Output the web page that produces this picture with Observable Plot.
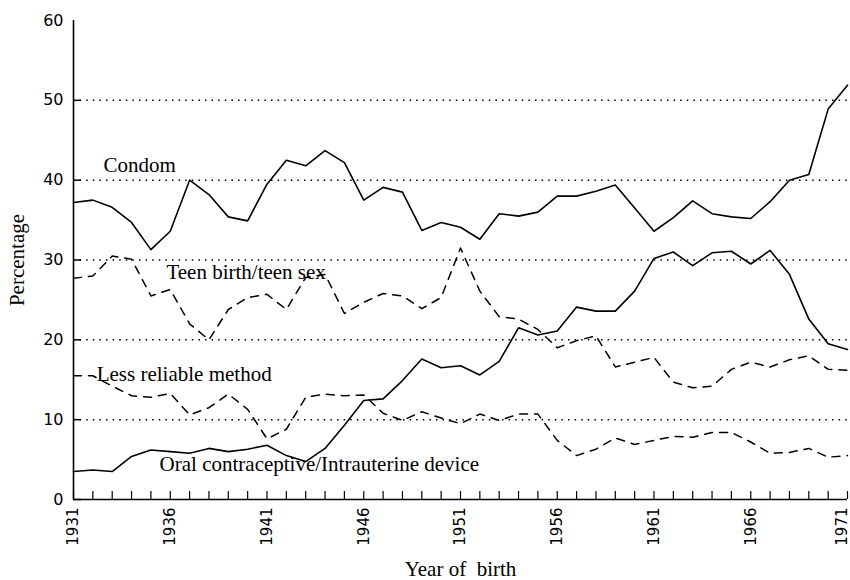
<!DOCTYPE html>
<html><head><meta charset="utf-8">
<script src="https://cdn.jsdelivr.net/npm/d3@7"></script>
<script src="https://cdn.jsdelivr.net/npm/@observablehq/plot@0.6"></script>
<style>body{margin:0;background:#fff;}</style>
</head><body><div id="chart"></div>
<script>
const years = [1931,1932,1933,1934,1935,1936,1937,1938,1939,1940,
  1941,1942,1943,1944,1945,1946,1947,1948,1949,1950,
  1951,1952,1953,1954,1955,1956,1957,1958,1959,1960,
  1961,1962,1963,1964,1965,1966,1967,1968,1969,1970,1971];
const condom = [37.2,37.5,36.6,34.7,31.3,33.6,40.0,38.2,35.4,34.9,
  39.5,42.5,41.8,43.7,42.2,37.5,39.1,38.5,33.7,34.7,
  34.1,32.6,35.8,35.5,36.0,38.0,38.0,38.6,39.4,36.5,
  33.6,35.3,37.4,35.8,35.4,35.2,37.3,40.0,40.7,48.9,51.9];
const teen = [27.7,28.0,30.5,30.1,25.5,26.3,22.0,20.0,23.8,25.3,
  25.7,23.8,27.8,28.2,23.3,24.7,25.8,25.5,23.9,25.3,
  31.5,26.1,22.9,22.6,21.3,19.0,19.9,20.5,16.6,17.2,
  17.8,14.7,14.0,14.2,16.3,17.2,16.6,17.5,18.0,16.3,16.2];
const lessReliable = [15.5,15.5,14.2,13.0,12.8,13.3,10.6,11.5,13.2,11.3,
  7.6,8.8,12.8,13.2,13.0,13.1,10.8,9.9,11.0,10.2,
  9.5,10.7,9.9,10.7,10.7,7.4,5.5,6.3,7.7,6.9,
  7.4,7.9,7.8,8.4,8.4,7.2,5.8,5.9,6.4,5.3,5.5];
const oral = [3.5,3.7,3.5,5.4,6.2,6.0,5.8,6.4,6.0,6.3,
  6.8,5.5,4.75,6.4,9.3,12.4,12.6,14.9,17.6,16.5,
  16.75,15.6,17.3,21.5,20.6,21.1,24.1,23.6,23.6,26.1,
  30.2,31.0,29.3,30.9,31.1,29.5,31.2,28.2,22.6,19.5,18.8];
const seriesNames = ["Condom","Teen birth/teen sex","Less reliable method","Oral contraceptive/Intrauterine device"];
const xTickLabels = [1931,1936,1941,1946,1951,1956,1961,1966];
const xLastLabel = [1971];
const yTickLabels = [0,10,20,30,40,50,60];
const yTickMarks = [0,10,20,30,40,50];
const gridValues = [10,20,30,40,50];

const rows = (vals) => years.map((y,i) => ({year: y, value: vals[i]}));
const serif = "'Liberation Serif','Times New Roman',serif";
const solid = {x:"year", y:"value", stroke:"#000", strokeWidth:1.6};
const dashed = {x:"year", y:"value", stroke:"#000", strokeWidth:1.5, strokeDasharray:"8,7"};
const lbl = {fontFamily: serif, fontSize: 21, textAnchor:"start", lineAnchor:"bottom", fill:"#000", text: d => d};

const chart = Plot.plot({
  width: 850, height: 580,
  marginLeft: 73, marginRight: 3, marginTop: 20, marginBottom: 81,
  style: {fontFamily: "'DejaVu Sans', sans-serif", fontSize: "15px", background: "#fff", color: "#000"},
  x: {domain: [1931, 1971]},
  y: {domain: [0, 60]},
  marks: [
    Plot.gridY(gridValues, {stroke:"#000", strokeOpacity:1, strokeWidth:1.5, strokeDasharray:"1.5,5.1"}),
    Plot.axisY(yTickLabels, {tickSize:0, tickPadding:10, fontSize:16, label:null, tickFormat: d => `${d}`}),
    Plot.axisY(yTickMarks, {tickSize:8, dx:8, text:null, label:null, strokeWidth:1.5}),
    Plot.axisX(xTickLabels, {tickSize:0, tickPadding:8, tickRotate:-90, fontSize:15, label:null, tickFormat: d => `${d}`}),
    Plot.axisX(xLastLabel, {tickSize:0, tickPadding:8, tickRotate:-90, fontSize:15, dx:-5, label:null, tickFormat: d => `${d}`}),
    Plot.axisX(years, {tickSize:8, dy:-8, text:null, label:null, strokeWidth:1.2}),
    Plot.ruleX([1931], {stroke:"#000", strokeWidth:1.6}),
    Plot.ruleY([0], {stroke:"#000", strokeWidth:1.6}),
    Plot.lineY(rows(condom), solid),
    Plot.lineY(rows(oral), solid),
    Plot.lineY(rows(teen), dashed),
    Plot.lineY(rows(lessReliable), dashed),
    Plot.text([seriesNames[0]], {...lbl, x: () => 1932.55, y: () => 41.0}),
    Plot.text([seriesNames[1]], {...lbl, x: () => 1935.8, y: () => 27.6}),
    Plot.text([seriesNames[2]], {...lbl, x: () => 1932.2, y: () => 14.9}),
    Plot.text([seriesNames[3]], {...lbl, x: () => 1935.45, y: () => 3.6}),
    Plot.text(["Percentage"], {frameAnchor:"left", dx:-56, rotate:-90, textAnchor:"middle", lineAnchor:"middle", fontFamily: serif, fontSize:21, fill:"#000", text: d => d}),
    Plot.text(["Year of\u00A0 birth"], {frameAnchor:"bottom", dy:76, textAnchor:"middle", lineAnchor:"bottom", fontFamily: serif, fontSize:21, fill:"#000", text: d => d})
  ]
});
document.getElementById("chart").appendChild(chart);
</script>
</body></html>
